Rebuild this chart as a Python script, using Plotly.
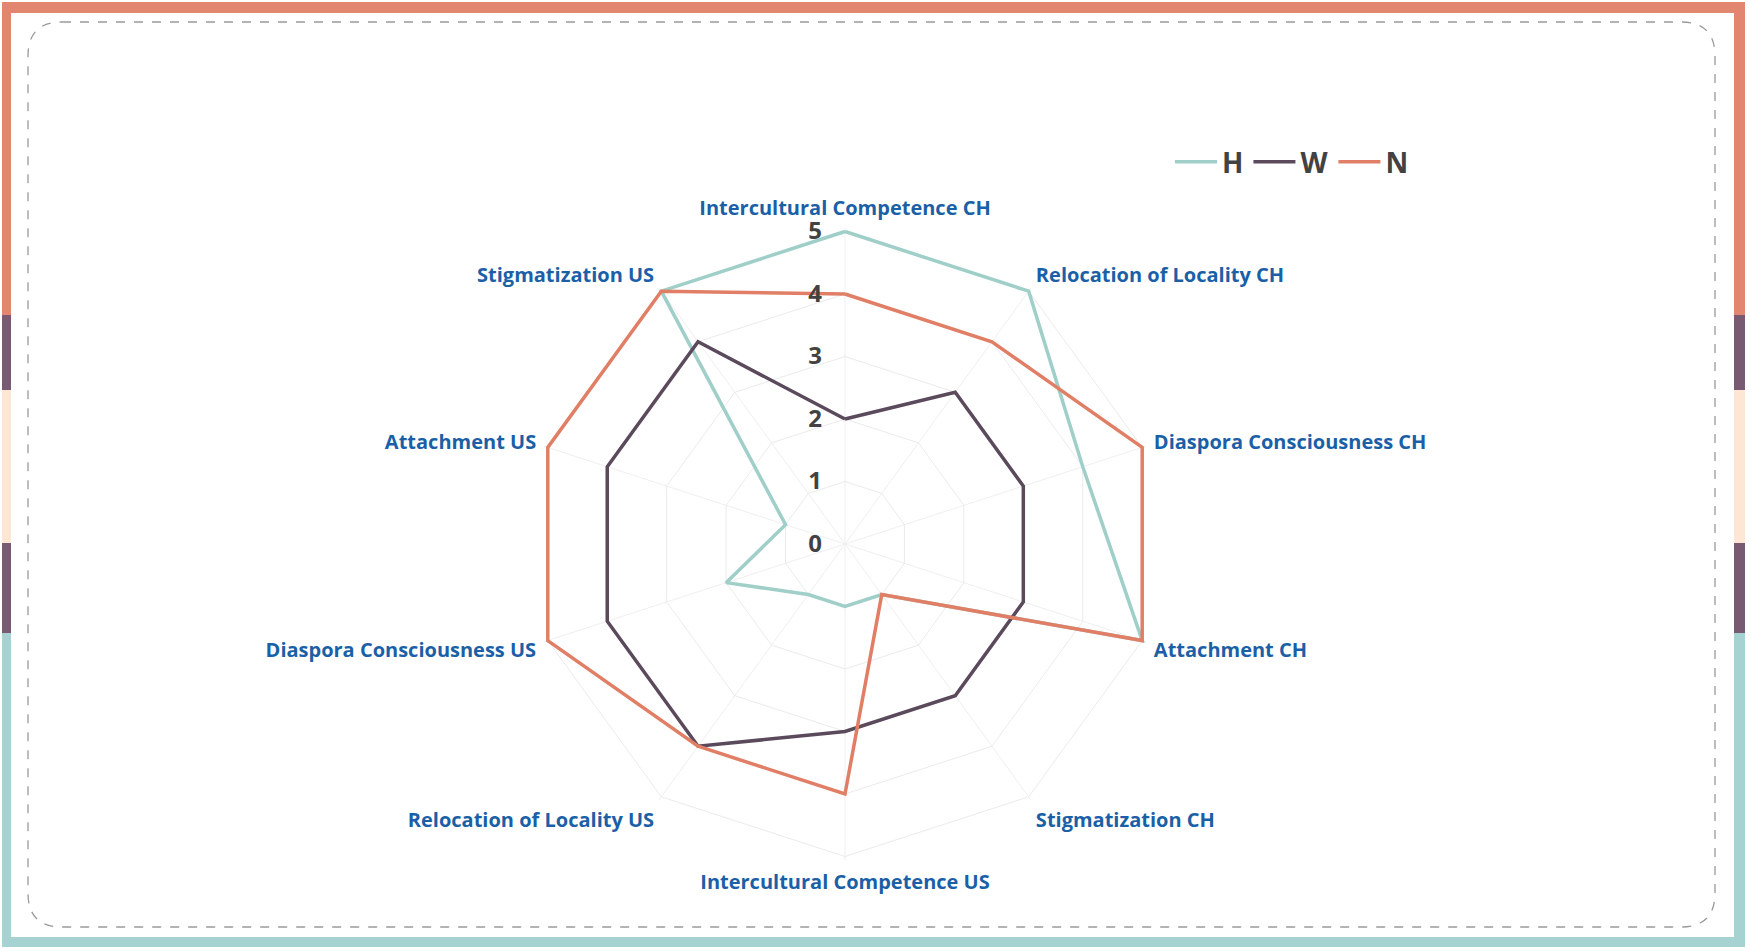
import plotly.graph_objects as go

# data
categories = ["Intercultural Competence CH", "Relocation of Locality CH", "Diaspora Consciousness CH",
              "Attachment CH", "Stigmatization CH", "Intercultural Competence US",
              "Relocation of Locality US", "Diaspora Consciousness US", "Attachment US",
              "Stigmatization US"]
h_values = [5, 5, 4, 5, 1, 1, 1, 2, 1, 5]
w_values = [2, 3, 3, 3, 3, 3, 4, 4, 4, 4]
n_values = [4, 4, 5, 5, 1, 4, 4, 5, 5, 5]
series_names = ["H", "W", "N"]
radial_ticks = [0, 1, 2, 3, 4, 5]

FIG_W, FIG_H = 1750, 951
LINE_COLORS = {"H": "#9fcfc8", "W": "#5a4a5c", "N": "#e07f66"}
SALMON, PURPLE, CREAM, TEAL = "#e3866f", "#785a72", "#fde6d4", "#a6d2d1"
LABEL_BLUE = "#1b5fa7"
DARK = "#424242"


def px(x):  # pixel -> paper fraction (horizontal)
    return x / FIG_W


def py(y):  # pixel from top -> paper fraction (vertical)
    return 1 - y / FIG_H


def closed(vals):
    return list(vals) + [vals[0]]


fig = go.Figure()
for name, vals in zip(series_names, [h_values, w_values, n_values]):
    fig.add_trace(go.Scatterpolar(r=closed(vals), theta=closed(categories), name=name,
                                  mode="lines", cliponaxis=False,
                                  line=dict(color=LINE_COLORS[name], width=3.5)))

# polar area: centre (845, 544), value 5 sits at 312.5 px; range padded a little so
# lines lying on the outer ring are not clipped in half
r_max = 5.06
cx, cy = 845, 544
rad = 312.5 * r_max / 5
fig.update_layout(
    width=FIG_W, height=FIG_H,
    margin=dict(l=0, r=0, t=0, b=0),
    paper_bgcolor="white",
    font=dict(family="Open Sans", color=DARK),
    polar=dict(
        domain=dict(x=[px(cx - rad), px(cx + rad)], y=[py(cy + rad), py(cy - rad)]),
        bgcolor="white",
        gridshape="linear",
        radialaxis=dict(range=[0, r_max], tickvals=radial_ticks, angle=90, tickangle=90,
                        side="counterclockwise", showline=False,
                        ticks="outside", ticklen=14, tickcolor="rgba(0,0,0,0)",
                        gridcolor="#ebebeb", gridwidth=1,
                        tickfont=dict(size=24, color=DARK, family="Open Sans", weight="bold")),
        angularaxis=dict(rotation=90, direction="clockwise", showline=False,
                         gridcolor="#efefef", ticks="outside", ticklen=4,
                         tickcolor="rgba(0,0,0,0)",
                         tickfont=dict(size=20, color=LABEL_BLUE, family="Open Sans", weight="bold")),
    ),
    legend=dict(orientation="h", x=px(1170), y=py(162), xanchor="left", yanchor="middle",
                itemwidth=42,
                font=dict(size=28, color=DARK, family="Open Sans", weight="bold"),
                bgcolor="rgba(0,0,0,0)"),
)

# decorative frame: coloured border bands
shapes = [
    dict(type="rect", x0=px(2), x1=px(1745), y0=py(2), y1=py(13), fillcolor=SALMON),
    dict(type="rect", x0=px(2), x1=px(1745), y0=py(937), y1=py(947), fillcolor=TEAL),
]
bands = [(2, 315, SALMON), (315, 390, PURPLE), (390, 543, CREAM), (543, 633, PURPLE), (633, 947, TEAL)]
for xa, xb in [(2, 11), (1734, 1745)]:
    for ya, yb, col in bands:
        shapes.append(dict(type="rect", x0=px(xa), x1=px(xb), y0=py(ya), y1=py(yb), fillcolor=col))
for s in shapes:
    s.update(xref="paper", yref="paper", line=dict(width=0), layer="below")

# dashed rounded rectangle inside the frame
L, T, R, B, rr = 28, 22, 1715, 927, 34
path = (f"M {px(L + rr)},{py(T)} L {px(R - rr)},{py(T)} Q {px(R)},{py(T)} {px(R)},{py(T + rr)} "
        f"L {px(R)},{py(B - rr)} Q {px(R)},{py(B)} {px(R - rr)},{py(B)} "
        f"L {px(L + rr)},{py(B)} Q {px(L)},{py(B)} {px(L)},{py(B - rr)} "
        f"L {px(L)},{py(T + rr)} Q {px(L)},{py(T)} {px(L + rr)},{py(T)} Z")
shapes.append(dict(type="path", path=path, xref="paper", yref="paper",
                   line=dict(color="#9a9a9a", width=1.3, dash="dash"), layer="below"))
fig.update_layout(shapes=shapes)

# the page's default body margin would shift the whole figure by 8px
fig.write_html("out.html", config={"displayModeBar": False},
               post_script="document.body.style.margin='0';")
